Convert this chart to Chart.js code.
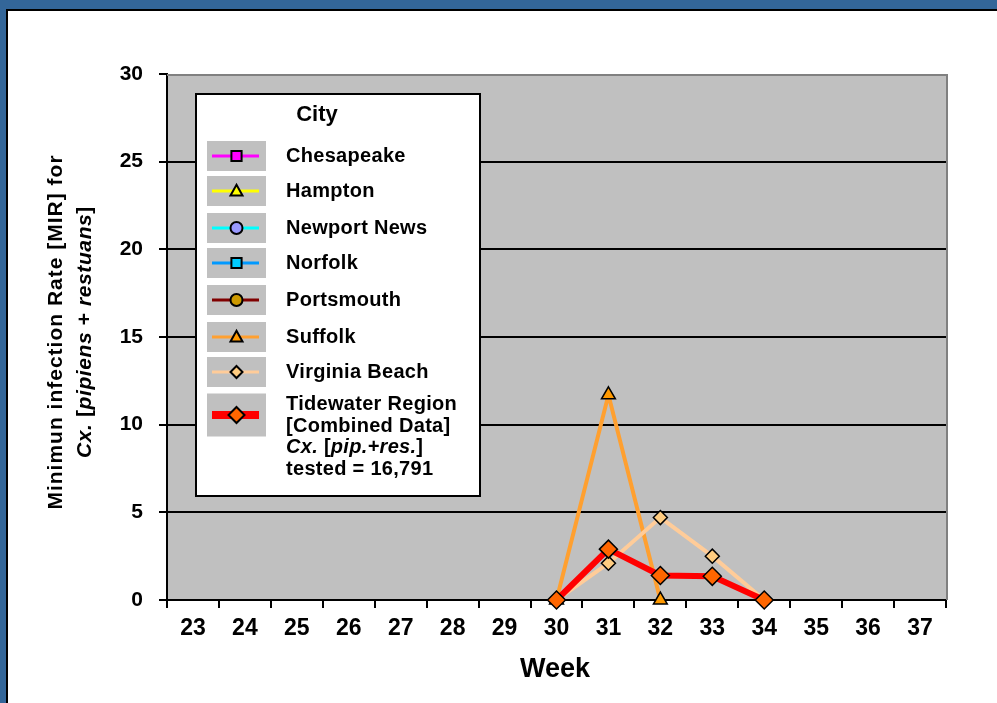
<!DOCTYPE html>
<html>
<head>
<meta charset="utf-8">
<script src="https://cdn.jsdelivr.net/npm/chart.js@4.4.1/dist/chart.umd.min.js"></script>
<style>
  html, body { margin: 0; padding: 0; background: #fff; }
  #wrap { position: absolute; left: 0; top: 0; width: 997px; height: 703px; overflow: hidden; }
  #chart-box { position: absolute; left: 0; top: 0; width: 997px; height: 703px; }
  .fr { position: absolute; z-index: 5; }
</style>
</head>
<body>
<div id="wrap">
  <div id="chart-box"><canvas id="mirChart"></canvas></div>
  <div class="fr" style="left:0;top:0;width:997px;height:9px;background:#336699"></div>
  <div class="fr" style="left:0;top:0;width:6px;height:703px;background:#336699"></div>
  <div class="fr" style="left:6px;top:9px;width:991px;height:2px;background:#000"></div>
  <div class="fr" style="left:6px;top:9px;width:2px;height:694px;background:#000"></div>
</div>
<script>
// ── data ─────────────────────────────────────
const weeks = ['23','24','25','26','27','28','29','30','31','32','33','34','35','36','37'];
const chesapeake   = [null,null,null,null,null,null,null,null,null,null,null,null,null,null,null];
const hampton      = [null,null,null,null,null,null,null,null,null,null,null,null,null,null,null];
const newportNews  = [null,null,null,null,null,null,null,null,null,null,null,null,null,null,null];
const norfolk      = [null,null,null,null,null,null,null,null,null,null,null,null,null,null,null];
const portsmouth   = [null,null,null,null,null,null,null,null,null,null,null,null,null,null,null];
const suffolk      = [null,null,null,null,null,null,null,0,11.7,0,null,null,null,null,null];
const virginiaBch  = [null,null,null,null,null,null,null,0,2.1,4.7,2.5,0,null,null,null];
const tidewater    = [null,null,null,null,null,null,null,0,2.9,1.4,1.35,0,null,null,null];
const yTicks = [0, 5, 10, 15, 20, 25, 30];

const FONT = "'Liberation Sans', Arial, Helvetica, sans-serif";

function ds(label, data, line, fill, style, lw, r, order) {
  return {
    label, data, borderColor: line, backgroundColor: fill, borderWidth: lw,
    pointStyle: style, pointRadius: r, pointHoverRadius: r,
    pointBackgroundColor: fill, pointBorderColor: '#000', pointBorderWidth: 1.5,
    tension: 0, spanGaps: false, clip: false, order
  };
}

const datasets = [
  ds('Chesapeake',     chesapeake,  '#FF00FF', '#FF00FF', 'rect',     2, 6, 8),
  ds('Hampton',        hampton,     '#FFFF00', '#FFFF00', 'triangle', 2, 6, 7),
  ds('Newport News',   newportNews, '#00FFFF', '#9999FF', 'circle',   2, 5, 6),
  ds('Norfolk',        norfolk,     '#0099FF', '#00CCFF', 'rect',     2, 6, 5),
  ds('Portsmouth',     portsmouth,  '#800000', '#CC9900', 'circle',   2, 5, 4),
  ds('Suffolk',        suffolk,     '#FFA030', '#FF9900', 'triangle', 4, 8, 3),
  ds('Virginia Beach', virginiaBch, '#FFCC99', '#FFCC80', 'rectRot',  4, 7, 2),
  ds('Tidewater Region', tidewater, '#FF0000', '#FF6600', 'rectRot',  6, 9, 1)
];

// draws text made of plain / italic pieces
function richText(ctx, parts, x, y, size, align, spacing) {
  const fontOf = p => (p.i ? 'italic ' : '') + 'bold ' + size + 'px ' + FONT;
  ctx.letterSpacing = (spacing || 0) + 'px';
  let total = 0;
  parts.forEach(p => { ctx.font = fontOf(p); total += ctx.measureText(p.t).width; });
  let cx = align === 'left' ? x : x - total / 2;
  ctx.textAlign = 'left';
  ctx.textBaseline = 'middle';
  parts.forEach(p => {
    ctx.font = fontOf(p);
    ctx.fillText(p.t, cx, y);
    cx += ctx.measureText(p.t).width;
  });
  ctx.letterSpacing = '0px';
}

function marker(ctx, style, x, y, r, fill) {
  ctx.beginPath();
  if (style === 'rect') {
    ctx.rect(x - r * 0.85, y - r * 0.85, 1.7 * r, 1.7 * r);
  } else if (style === 'triangle') {
    ctx.moveTo(x, y - r * 1.05);
    ctx.lineTo(x + r, y + r * 0.75);
    ctx.lineTo(x - r, y + r * 0.75);
    ctx.closePath();
  } else if (style === 'circle') {
    ctx.arc(x, y, r, 0, Math.PI * 2);
  } else {
    ctx.moveTo(x, y - r); ctx.lineTo(x + r, y); ctx.lineTo(x, y + r); ctx.lineTo(x - r, y); ctx.closePath();
  }
  ctx.fillStyle = fill;
  ctx.fill();
  ctx.lineWidth = 2;
  ctx.strokeStyle = '#000';
  ctx.stroke();
}

const decor = {
  id: 'decor',
  beforeDraw(chart) {
    const { ctx, chartArea: a } = chart;
    ctx.save();
    ctx.fillStyle = '#C0C0C0';
    ctx.fillRect(a.left, a.top, a.right - a.left, a.bottom - a.top);
    ctx.restore();
  },
  beforeDatasetsDraw(chart) {
    const { ctx, chartArea: a } = chart;
    ctx.save();
    ctx.strokeStyle = '#808080';
    ctx.lineWidth = 2;
    ctx.beginPath();
    ctx.moveTo(a.left, a.top + 1); ctx.lineTo(a.right + 1, a.top + 1);
    ctx.moveTo(a.right + 1, a.top); ctx.lineTo(a.right + 1, a.bottom);
    ctx.stroke();
    ctx.restore();
  },
  afterDraw(chart) {
    const { ctx } = chart;
    ctx.save();
    ctx.fillStyle = '#000';

    // y axis title
    ctx.save();
    ctx.translate(56, 332);
    ctx.rotate(-Math.PI / 2);
    richText(ctx, [{ t: 'Minimun infection Rate [MIR] for' }], 0, 0, 21, 'center', 1);
    ctx.translate(0, 29);
    richText(ctx, [{ t: 'Cx.', i: true }, { t: ' [' }, { t: 'pipiens', i: true }, { t: ' + ' },
                   { t: 'restuans', i: true }, { t: ']' }], 0, 0, 21, 'center', 0.6);
    ctx.restore();

    // x axis title
    ctx.font = 'bold 27px ' + FONT;
    ctx.textAlign = 'center';
    ctx.textBaseline = 'middle';
    ctx.fillText('Week', 555, 670);

    // legend box
    ctx.fillStyle = '#fff';
    ctx.fillRect(196, 94, 284, 402);
    ctx.strokeStyle = '#000';
    ctx.lineWidth = 2;
    ctx.strokeRect(196, 94, 284, 402);
    ctx.fillStyle = '#000';
    ctx.font = 'bold 22px ' + FONT;
    ctx.textAlign = 'center';
    ctx.textBaseline = 'middle';
    ctx.fillText('City', 317, 115);

    const rows = [156, 191, 228, 263, 300, 337, 372, 415];
    chart.data.datasets.forEach((d, i) => {
      const y = rows[i];
      const last = i === chart.data.datasets.length - 1;
      const sh = last ? 43 : 30;
      ctx.fillStyle = '#C0C0C0';
      ctx.fillRect(207, y - sh / 2, 59, sh);
      ctx.strokeStyle = d.borderColor;
      ctx.lineWidth = last ? 8 : 3;
      ctx.beginPath();
      ctx.moveTo(212, y); ctx.lineTo(259, y);
      ctx.stroke();
      marker(ctx, d.pointStyle, 236.5, y, last ? 8 : 6, d.pointBackgroundColor);
      ctx.fillStyle = '#000';
      if (!last) {
        richText(ctx, [{ t: d.label }], 286, y, 20, 'left', 0.3);
      } else {
        richText(ctx, [{ t: 'Tidewater Region' }], 286, 404, 20, 'left', 0.3);
        richText(ctx, [{ t: '[Combined Data]' }], 286, 426, 20, 'left', 0.3);
        richText(ctx, [{ t: 'Cx.', i: true }, { t: ' [' }, { t: 'pip.+res.', i: true }, { t: ']' }], 286, 447, 20, 'left', 0.3);
        richText(ctx, [{ t: 'tested = 16,791' }], 286, 469, 20, 'left', 0.3);
      }
    });
    ctx.restore();
  }
};

new Chart(document.getElementById('mirChart').getContext('2d'), {
  type: 'line',
  data: { labels: weeks, datasets },
  options: {
    responsive: true,
    maintainAspectRatio: false,
    animation: false,
    devicePixelRatio: 1,
    layout: { padding: { top: 74, right: 51, left: 0, bottom: 0 } },
    plugins: { legend: { display: false }, tooltip: { enabled: false }, title: { display: false } },
    scales: {
      x: {
        type: 'category',
        offset: true,
        afterFit(s) { s.height = 103; },
        grid: { offset: true, drawOnChartArea: false, drawTicks: true, tickLength: 8, color: '#000', tickColor: '#000', lineWidth: 2 },
        border: { color: '#000', width: 2 },
        ticks: { color: '#000', font: { family: FONT, size: 23, weight: 'bold' }, padding: 7, maxRotation: 0, autoSkip: false }
      },
      y: {
        min: 0, max: 30,
        afterFit(s) { s.width = 167; },
        afterBuildTicks(s) { s.ticks = yTicks.map(v => ({ value: v })); },
        grid: {
          color: c => (c.tick && c.tick.value === 30 ? 'rgba(0,0,0,0)' : '#000'),
          tickColor: '#000', lineWidth: 2, tickLength: 8, drawTicks: true
        },
        border: { color: '#000', width: 2 },
        ticks: { color: '#000', font: { family: FONT, size: 21, weight: 'bold' }, padding: 16 }
      }
    }
  },
  plugins: [decor]
});
</script>
</body>
</html>
